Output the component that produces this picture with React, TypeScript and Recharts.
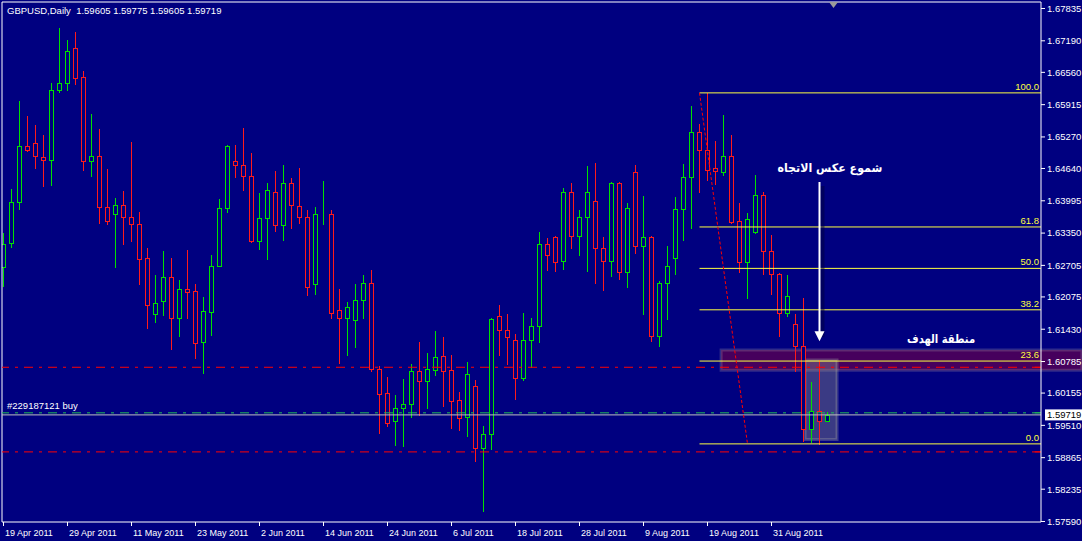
import { ComposedChart, Bar, XAxis, YAxis, ReferenceLine, ReferenceArea, ReferenceDot } from 'recharts';

// Daily GBPUSD candles, 19 Apr 2011 .. 9 Sep 2011
const OPEN = [
  1.6267, 1.6316, 1.6397, 1.6509, 1.6515, 1.6487, 1.6481, 1.6621, 1.6635, 1.6705,
  1.6647, 1.6479, 1.6489, 1.6388, 1.6374, 1.6392, 1.6368, 1.6354, 1.6286, 1.6174,
  1.6200, 1.6248, 1.6166, 1.6224, 1.6220, 1.6118, 1.6178, 1.6270, 1.6386, 1.6479,
  1.6471, 1.6449, 1.6320, 1.6366, 1.6418, 1.6352, 1.6436, 1.6390, 1.6368, 1.6234,
  1.6374, 1.6374, 1.6182, 1.6166, 1.6162, 1.6202, 1.6236, 1.6064, 1.6016, 1.5960,
  1.5986, 1.5994, 1.6060, 1.6040, 1.6062, 1.6090, 1.6062, 1.6002, 1.5968, 1.6030,
  1.5906, 1.5934, 1.6170, 1.6142, 1.6122, 1.6046, 1.6122, 1.6150, 1.6314, 1.6327,
  1.6280, 1.6418, 1.6330, 1.6368, 1.6400, 1.6306, 1.6280, 1.6436, 1.6258, 1.6457,
  1.6310, 1.6328, 1.6130, 1.6236, 1.6286, 1.6384, 1.6447, 1.6537, 1.6501, 1.6465,
  1.6457, 1.6489, 1.6360, 1.6277, 1.6337, 1.6412, 1.6300, 1.6254, 1.6176, 1.6154,
  1.6110, 1.5944, 1.5980, 1.59605,
];
const HIGH = [
  1.6336, 1.6424, 1.6598, 1.6568, 1.6550, 1.6530, 1.6634, 1.6744, 1.6720, 1.6736,
  1.6658, 1.6572, 1.6542, 1.6462, 1.6406, 1.6420, 1.6516, 1.6378, 1.6306, 1.6252,
  1.6300, 1.6286, 1.6242, 1.6302, 1.6233, 1.6208, 1.6292, 1.6404, 1.6510, 1.6510,
  1.6544, 1.6494, 1.6416, 1.6436, 1.6458, 1.6470, 1.6446, 1.6464, 1.6382, 1.6388,
  1.6440, 1.6382, 1.6224, 1.6198, 1.6234, 1.6252, 1.6262, 1.6069, 1.6047, 1.6011,
  1.6043, 1.6073, 1.6117, 1.6095, 1.6139, 1.6127, 1.6091, 1.6017, 1.6077, 1.6041,
  1.5949, 1.6166, 1.6192, 1.6174, 1.6133, 1.6176, 1.6166, 1.6338, 1.6326, 1.6329,
  1.6425, 1.6436, 1.6382, 1.6468, 1.6474, 1.6328, 1.6438, 1.6437, 1.6396, 1.6470,
  1.6410, 1.6329, 1.6240, 1.6310, 1.6408, 1.6473, 1.6588, 1.6553, 1.6615, 1.6518,
  1.6570, 1.6531, 1.6396, 1.6376, 1.6451, 1.6418, 1.6332, 1.6255, 1.6252, 1.6174,
  1.6206, 1.6038, 1.6082, 1.59775,
];
const LOW = [
  1.6229, 1.6307, 1.6383, 1.6499, 1.6465, 1.6429, 1.6431, 1.6616, 1.6620, 1.6632,
  1.6461, 1.6449, 1.6355, 1.6353, 1.6267, 1.6313, 1.6319, 1.6233, 1.6145, 1.6157,
  1.6171, 1.6103, 1.6129, 1.6165, 1.6085, 1.6055, 1.6131, 1.6269, 1.6377, 1.6447,
  1.6421, 1.6318, 1.6303, 1.6283, 1.6339, 1.6321, 1.6345, 1.6355, 1.6211, 1.6213,
  1.6353, 1.6165, 1.6075, 1.6091, 1.6107, 1.6165, 1.6059, 1.5935, 1.5949, 1.5911,
  1.5909, 1.5968, 1.5971, 1.5985, 1.6051, 1.5990, 1.5945, 1.5942, 1.5929, 1.5880,
  1.5780, 1.5903, 1.6091, 1.6073, 1.6003, 1.6041, 1.6068, 1.6117, 1.6261, 1.6259,
  1.6263, 1.6305, 1.6291, 1.6259, 1.6235, 1.6221, 1.6249, 1.6243, 1.6227, 1.6295,
  1.6173, 1.6119, 1.6109, 1.6163, 1.6253, 1.6321, 1.6345, 1.6417, 1.6441, 1.6433,
  1.6451, 1.6356, 1.6257, 1.6205, 1.6335, 1.6254, 1.6214, 1.6129, 1.6170, 1.6059,
  1.5920, 1.5917, 1.5913, 1.59605,
];
const CLOSE = [
  1.6314, 1.6398, 1.6509, 1.6501, 1.6489, 1.6481, 1.6621, 1.6634, 1.6699, 1.6645,
  1.6479, 1.6489, 1.6388, 1.6360, 1.6392, 1.6368, 1.6354, 1.6284, 1.6192, 1.6196,
  1.6248, 1.6166, 1.6224, 1.6218, 1.6116, 1.6180, 1.6270, 1.6386, 1.6508, 1.6471,
  1.6449, 1.6320, 1.6366, 1.6422, 1.6352, 1.6436, 1.6392, 1.6368, 1.6228, 1.6374,
  1.6374, 1.6176, 1.6166, 1.6188, 1.6202, 1.6236, 1.6064, 1.6014, 1.5956, 1.5986,
  1.5994, 1.6060, 1.6040, 1.6064, 1.6088, 1.6060, 1.6000, 1.5966, 1.6054, 1.5906,
  1.5934, 1.6164, 1.6142, 1.6128, 1.6046, 1.6122, 1.6150, 1.6314, 1.6292, 1.6278,
  1.6418, 1.6330, 1.6368, 1.6418, 1.6306, 1.6280, 1.6436, 1.6258, 1.6386, 1.6310,
  1.6328, 1.6130, 1.6236, 1.6270, 1.6384, 1.6447, 1.6537, 1.6501, 1.6461, 1.6459,
  1.6489, 1.6358, 1.6277, 1.6364, 1.6412, 1.6300, 1.6254, 1.6176, 1.6210, 1.6109,
  1.5944, 1.5980, 1.5960, 1.59719,
];

const DATE_TICKS = [0, 8, 16, 24, 32, 40, 48, 56, 64, 72, 80, 88, 96];
const DATE_LABELS = [
  '19 Apr 2011', '29 Apr 2011', '11 May 2011', '23 May 2011', '2 Jun 2011', '14 Jun 2011',
  '24 Jun 2011', '6 Jul 2011', '18 Jul 2011', '28 Jul 2011', '9 Aug 2011', '19 Aug 2011', '31 Aug 2011',
];
const PRICE_TICKS = [
  1.67835, 1.6719, 1.6656, 1.65915, 1.6527, 1.6464, 1.63995, 1.6335, 1.62705,
  1.62075, 1.6143, 1.60785, 1.60155, 1.5951, 1.58865, 1.58235, 1.5759,
];

// fibonacci retracement drawn from the swing high to the swing low
const FIB_LEVELS = [0, 23.6, 38.2, 50, 61.8, 100];
const FIB_HIGH = 1.6615;
const FIB_LOW = 1.5914;
const FIB_FROM_BAR = 87;
const FIB_TO_BAR = 93;

// order lines
const BID = 1.59719;
const ORDER_PRICE = 1.5976;
const TAKE_PROFIT = 1.6067;
const STOP_LOSS = 1.5898;

const BG = '#000080';
const BULL = '#00e000';
const BEAR = '#ff1a1a';
const FIB_COLOR = '#ffff40';
const FONT = 'Liberation Sans, Arial, sans-serif';

const XMIN = -0.1875;
const XMAX = 129.6875;
const YMIN = 1.5758;
const YMAX = 1.67965;

const rows = OPEN.map((o, i) => ({
  i,
  open: o,
  high: HIGH[i],
  low: LOW[i],
  close: CLOSE[i],
  range: [LOW[i], HIGH[i]],
}));

function Candle(props: any) {
  const { x, y, width, height, payload } = props;
  if (!payload || x == null || y == null) return null;
  const top = Math.min(y, y + height);
  const h = Math.abs(height);
  const span = payload.high - payload.low;
  const k = span > 0 ? h / span : 0;
  const py = (p: number) => Math.round(top + (payload.high - p) * k);
  const cx = Math.floor(x + width / 2) + 0.5;
  const bull = payload.close >= payload.open;
  const color = bull ? BULL : BEAR;
  const yH = py(payload.high);
  const yL = py(payload.low);
  const bTop = py(Math.max(payload.open, payload.close));
  const bBot = py(Math.min(payload.open, payload.close));
  return (
    <g shapeRendering="crispEdges">
      <line x1={cx} x2={cx} y1={yH} y2={bTop} stroke={color} />
      <line x1={cx} x2={cx} y1={bBot} y2={yL + 1} stroke={color} />
      <rect x={cx - 2} y={bTop + 0.5} width={4} height={Math.max(0, bBot - bTop)} fill={BG} stroke={color} />
    </g>
  );
}

function DateTick({ x, y, payload }: any) {
  const idx = DATE_TICKS.indexOf(payload.value);
  return (
    <text x={x + 1.5} y={y + 8} fill="#fff" fontSize={9} fontFamily={FONT}>
      {DATE_LABELS[idx]}
    </text>
  );
}

const fibPrice = (lvl: number) => FIB_LOW + (lvl / 100) * (FIB_HIGH - FIB_LOW);

const fibLabel = (txt: string) => (p: any) => {
  const vb = p.viewBox || {};
  return (
    <text x={vb.x + vb.width - 2} y={vb.y - 3} textAnchor="end" fill={FIB_COLOR} fontSize={9.5} fontFamily={FONT}>
      {txt}
    </text>
  );
};

function Arrow(p: any) {
  const { x1, y1, x2, y2 } = p;
  const x = Math.round(x1) + 0.5;
  return (
    <g>
      <line x1={x + 3} x2={x + 3} y1={y1 + 4} y2={y2 - 4} stroke="#000040" strokeWidth={4} opacity={0.5} />
      <line x1={x} x2={x} y1={y1} y2={y2 - 9} stroke="#ffffff" strokeWidth={2} />
      <polygon points={`${x - 5},${y2 - 10} ${x + 5},${y2 - 10} ${x},${y2}`} fill="#ffffff" />
    </g>
  );
}

const arabicText = (txt: string, w: number) => (p: any) => (
  <text
    x={p.cx}
    y={p.cy}
    textAnchor="middle"
    fill="#ffffff"
    fontSize={12}
    fontWeight="bold"
    fontFamily="DejaVu Sans, sans-serif"
    textLength={w}
    lengthAdjust="spacingAndGlyphs"
  >
    {txt}
  </text>
);

export default function App() {
  const last = rows[rows.length - 1];
  const title = `GBPUSD,Daily  ${last.open.toFixed(5)} ${last.high.toFixed(5)} ${last.low.toFixed(5)} ${last.close.toFixed(5)}`;
  return (
    <div style={{ position: 'absolute', left: 0, top: 0, width: 1082, height: 541, background: BG, overflow: 'hidden' }}>
      <ComposedChart width={1082} height={541} data={rows} margin={{ top: 2, right: 0, bottom: 0, left: 2 }}>
        <XAxis
          dataKey="i"
          type="number"
          domain={[XMIN, XMAX]}
          allowDataOverflow
          ticks={DATE_TICKS}
          interval={0}
          height={19}
          tickSize={4}
          tickMargin={2}
          axisLine={{ stroke: '#ffffff' }}
          tickLine={{ stroke: '#ffffff' }}
          tick={<DateTick />}
        />
        <YAxis
          orientation="right"
          type="number"
          domain={[YMIN, YMAX]}
          allowDataOverflow
          ticks={PRICE_TICKS}
          interval={0}
          width={41}
          tickSize={4}
          tickMargin={2}
          axisLine={{ stroke: '#ffffff' }}
          tickLine={{ stroke: '#ffffff' }}
          tick={{ fill: '#ffffff', fontSize: 9.5, fontFamily: FONT }}
          tickFormatter={(v: number) => v.toFixed(5)}
        />
        <ReferenceLine x={XMIN} stroke="#ffffff" ifOverflow="visible" />
        <ReferenceLine y={YMAX} stroke="#ffffff" ifOverflow="visible" />

        <ReferenceLine y={TAKE_PROFIT} stroke="#ff0000" strokeDasharray="9 6 3 6" />
        <ReferenceLine y={STOP_LOSS} stroke="#ff0000" strokeDasharray="9 6 3 6" />
        <ReferenceLine
          y={ORDER_PRICE}
          stroke="#22bb55"
          strokeDasharray="9 6 3 6"
          label={(p: any) => (
            <text x={p.viewBox.x + 5} y={p.viewBox.y - 4} fill="#ffffff" fontSize={9.5} fontFamily={FONT}>
              #229187121 buy
            </text>
          )}
        />
        <ReferenceLine
          y={BID}
          stroke="#c0c0c0"
          ifOverflow="visible"
          label={(p: any) => {
            const vb = p.viewBox;
            const rx = vb.x + vb.width + 4;
            return (
              <g>
                <rect x={rx} y={vb.y - 5.5} width={41} height={11} fill="#ffffff" />
                <text x={rx + 2} y={vb.y + 3.5} fill="#000000" fontSize={9.5} fontFamily={FONT}>
                  {BID.toFixed(5)}
                </text>
              </g>
            );
          }}
        />
        <ReferenceLine segment={[{ x: 128.9, y: TAKE_PROFIT }, { x: XMAX, y: TAKE_PROFIT }]} stroke="#ff0000" />
        <ReferenceLine segment={[{ x: 128.9, y: STOP_LOSS }, { x: XMAX, y: STOP_LOSS }]} stroke="#ff0000" />
        <ReferenceLine segment={[{ x: 128.9, y: ORDER_PRICE }, { x: XMAX, y: ORDER_PRICE }]} stroke="#22bb55" />

        {FIB_LEVELS.map((lvl) => (
          <ReferenceLine
            key={lvl}
            segment={[{ x: FIB_FROM_BAR, y: fibPrice(lvl) }, { x: XMAX, y: fibPrice(lvl) }]}
            stroke={FIB_COLOR}
            label={fibLabel(lvl.toFixed(1))}
          />
        ))}
        <ReferenceLine
          segment={[{ x: FIB_FROM_BAR, y: FIB_HIGH }, { x: FIB_TO_BAR, y: FIB_LOW }]}
          stroke="#ff0000"
          strokeDasharray="3 2"
        />

        <Bar dataKey="range" barSize={5} isAnimationActive={false} shape={<Candle />} />

        <ReferenceArea
          x1={89.7}
          x2={134.8}
          y1={1.60613}
          y2={1.61015}
          ifOverflow="visible"
          fill="#c8001e"
          fillOpacity={0.35}
          stroke="#9a8aa0"
          strokeOpacity={0.3}
          strokeWidth={3}
        />
        <ReferenceArea
          x1={100.19}
          x2={104.19}
          y1={1.59228}
          y2={1.60814}
          ifOverflow="visible"
          fill="#8a8a8a"
          fillOpacity={0.42}
          stroke="#a0a0a0"
          strokeOpacity={0.35}
          strokeWidth={3}
        />

        <ReferenceLine segment={[{ x: 102, y: 1.6437 }, { x: 102, y: 1.6119 }]} shape={<Arrow />} ifOverflow="visible" />
        <ReferenceDot x={103.3} y={1.6457} r={0} ifOverflow="visible" shape={arabicText('شموع عكس الاتجاه', 105)} />
        <ReferenceDot x={117.2} y={1.61155} r={0} ifOverflow="visible" shape={arabicText('منطقة الهدف', 68)} />
        <ReferenceDot
          x={103.75}
          y={YMAX}
          r={0}
          ifOverflow="visible"
          shape={(p: any) => (
            <polygon points={`${p.cx - 4.5},${p.cy} ${p.cx + 4.5},${p.cy} ${p.cx},${p.cy + 6}`} fill="#9a9a9a" />
          )}
        />
      </ComposedChart>
      <svg width={1082} height={541} style={{ position: 'absolute', left: 0, top: 0, pointerEvents: 'none' }}>
        <text x={7} y={14} fill="#ffffff" fontSize={9.5} fontFamily={FONT} style={{ whiteSpace: 'pre' }}>
          {title}
        </text>
      </svg>
    </div>
  );
}
